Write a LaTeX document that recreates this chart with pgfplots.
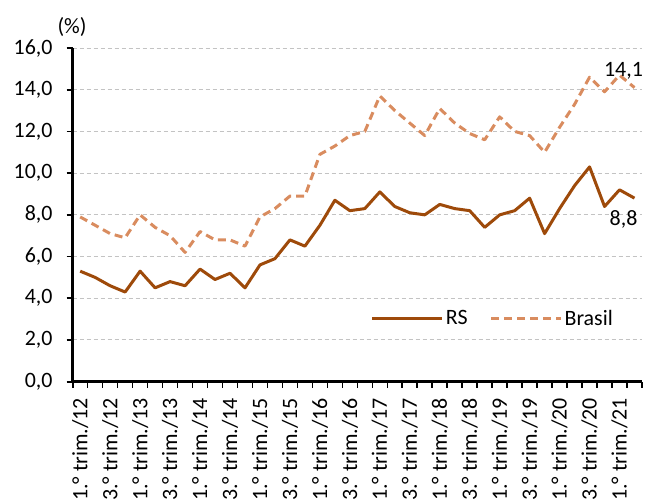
\documentclass[border=0pt]{standalone}
\usepackage{fontspec}
\setmainfont{Carlito}
\usepackage{pgfplots}
\usepackage{pgfplotstable}
\pgfplotsset{compat=1.18}
\definecolor{rscol}{RGB}{158,74,10}
\definecolor{brcol}{RGB}{217,140,95}
\definecolor{gridcol}{RGB}{195,195,195}
\pgfplotstableread{
x rs br
0 5.3 7.9
1 5.0 7.5
2 4.6 7.1
3 4.3 6.9
4 5.3 8.0
5 4.5 7.4
6 4.8 7.0
7 4.6 6.2
8 5.4 7.2
9 4.9 6.8
10 5.2 6.8
11 4.5 6.5
12 5.6 7.9
13 5.9 8.3
14 6.8 8.9
15 6.5 8.9
16 7.5 10.9
17 8.7 11.3
18 8.2 11.8
19 8.3 12.0
20 9.1 13.7
21 8.4 13.0
22 8.1 12.4
23 8.0 11.8
24 8.5 13.1
25 8.3 12.4
26 8.2 11.9
27 7.4 11.6
28 8.0 12.7
29 8.2 12.0
30 8.8 11.8
31 7.1 11.0
32 8.3 12.2
33 9.4 13.3
34 10.3 14.6
35 8.4 13.9
36 9.2 14.7
37 8.8 14.1
}\data
\begin{document}
\begin{tikzpicture}
\begin{axis}[
  at={(72.7bp,-381.7bp)}, anchor=south west,
  scale only axis, width=569.3bp, height=333.7bp,
  xmin=-0.5, xmax=37.5, ymin=0, ymax=16,
  axis x line=bottom, axis y line=left,
  axis line style={-, line width=2.8bp, black},
  ytick={0,2,...,16},
  ymajorgrids, grid style={gridcol, line width=1bp, dash pattern=on 4bp off 3bp},
  xtick={0,2,...,36},
  xticklabels={1.° trim./12,3.° trim./12,1.° trim./13,3.° trim./13,1.° trim./14,3.° trim./14,1.° trim./15,3.° trim./15,1.° trim./16,3.° trim./16,1.° trim./17,3.° trim./17,1.° trim./18,3.° trim./18,1.° trim./19,3.° trim./19,1.° trim./20,3.° trim./20,1.° trim./21},
  minor xtick={-0.5,0.5,...,37.5},
  tick align=outside,
  major tick length=6bp, minor tick length=6bp,
  major x tick style={draw=none},
  minor x tick style={black, line width=1.6bp},
  major y tick style={black, line width=1.6bp},
  tick label style={font=\fontsize{22}{26}\selectfont},
  yticklabel style={/pgf/number format/fixed, /pgf/number format/fixed zerofill, /pgf/number format/precision=1, /pgf/number format/use comma, /pgf/number format/assume math mode=true, anchor=east, inner sep=0pt},
  yticklabel shift=14bp,
  xticklabel style={rotate=90, anchor=east, inner sep=0pt},
  xticklabel shift=10bp,
  legend style={at={(0.5235,0.19)}, anchor=west, draw=none, fill=none, inner sep=0pt, font=\fontsize{22}{26}\selectfont, /tikz/every even column/.append style={column sep=20bp}},
  legend columns=2,
  legend image code/.code={\draw[#1] (0bp,0bp) -- (70bp,0bp);},
  line join=round,
]
\addplot[rscol, line width=3bp] table[x=x, y=rs]{\data};
\addlegendentry{RS}
\addplot[brcol, line width=3bp, dash pattern=on 8bp off 5bp] table[x=x, y=br]{\data};
\addlegendentry{Brasil}
\node[font=\fontsize{22}{26}\selectfont, xshift=-11bp, yshift=17bp] at (axis cs:37,14.1) {14,1};
\node[font=\fontsize{22}{26}\selectfont, xshift=-11bp, yshift=-21.6bp] at (axis cs:37,8.8) {8,8};
\end{axis}
\node[font=\fontsize{22}{26}\selectfont] at (72bp,-27bp) {(\%)};
\pgfresetboundingbox
\path[use as bounding box] (0bp,-502bp) rectangle (645bp,0bp);
\end{tikzpicture}
\end{document}
